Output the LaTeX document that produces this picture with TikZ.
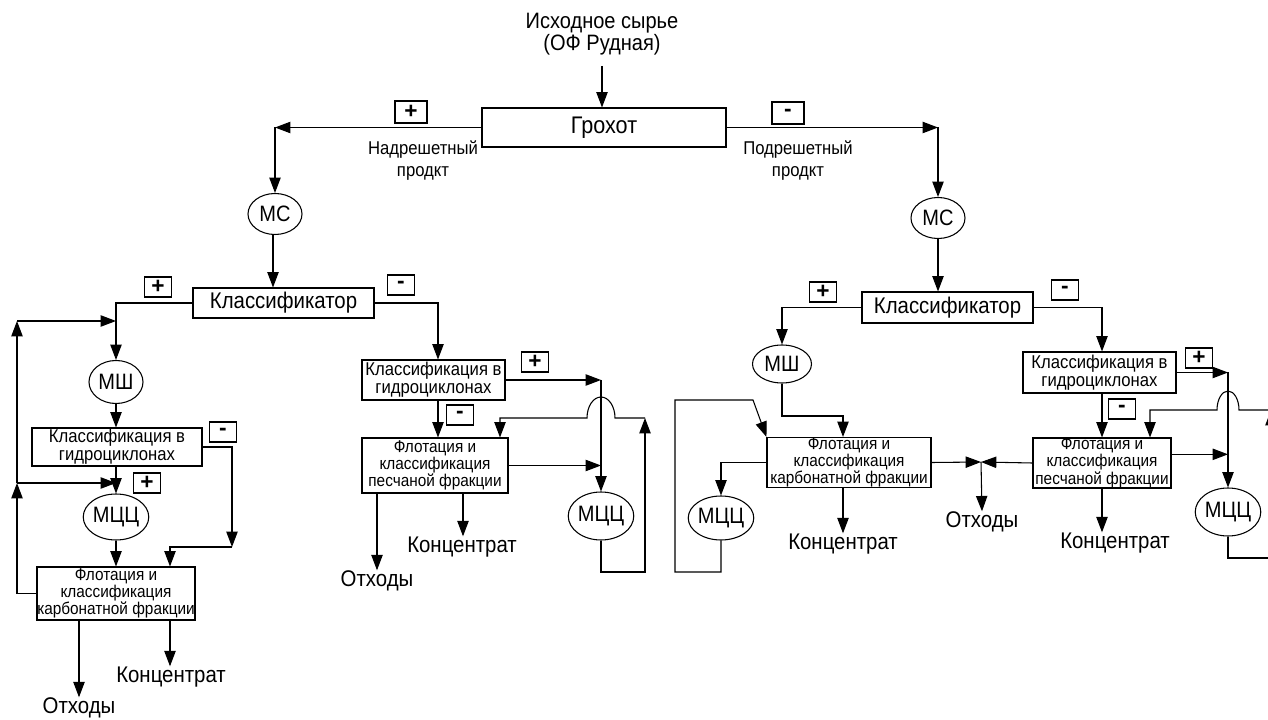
\documentclass[tikz,border=0pt]{standalone}
\usepackage{fontspec}
\setmainfont{Liberation Sans}
\newfontfamily\nf[FakeStretch=0.9]{Liberation Sans}
\usetikzlibrary{shapes.geometric,arrows.meta}
\newcommand\fsz[2]{\nf\fontsize{#1}{#2}\selectfont}
\newcommand\sgfont{\rmfamily\bfseries\fontsize{17}{17}\selectfont}
\tikzset{
  bx/.style={draw, rectangle, inner sep=0pt, align=center},
  ov/.style={draw, ellipse, inner sep=0pt, font=\fsz{16.7}{18}},
  sg/.style={draw, rectangle, inner sep=0pt, minimum width=27*0.75pt, minimum height=20*0.75pt, font=\sgfont},
  sgb/.style={sg, minimum width=32*0.75pt, minimum height=22*0.75pt},
  arr/.style={-{Triangle[length=11.5pt,width=8.5pt]}},
  lbl/.style={inner sep=0pt, align=center},
  big/.style={font=\fsz{17}{18}},
  hc/.style={font=\fsz{13.9}{13.5}},
  fl/.style={font=\fsz{12.8}{11.8}},
}
\begin{document}
\begin{tikzpicture}[x=0.75pt,y=-0.75pt,line width=0.8pt]
\useasboundingbox (0,0) rectangle (1268,720);
\clip (0,0) rectangle (1268,720);

% column coordinates
\coordinate (colL) at (116,0);
\coordinate (colLc) at (170,0);
\coordinate (colLo) at (79,0);
\coordinate (colM) at (438,0);
\coordinate (colMo) at (377,0);
\coordinate (colMc) at (463,0);
\coordinate (colV) at (601,0);
\coordinate (colR2) at (843,0);
\coordinate (colR3) at (1102,0);
\coordinate (colV2) at (1228,0);

% ---------- top ----------
\node[lbl, font=\fsz{16.7}{16}] (src) at (602,34) {Исходное сырье\\(ОФ Рудная)};
\node[bx, font=\fsz{18}{19}, minimum width=244*0.75pt, minimum height=39*0.75pt] (groh) at (604,127.5) {Грохот};
\node[sgb] (pA) at (411,112) {+};
\node[sgb] (mA) at (788,113) {-};
\node[lbl, font=\fsz{13.9}{16.5}] (nad) at (423,161) {Надрешетный\\продкт};
\node[lbl, font=\fsz{13.9}{16.5}] (pod) at (798,161) {Подрешетный\\продкт};
\node[ov, minimum width=54*0.75pt, minimum height=41*0.75pt] (msL) at (275,214) {МС};
\node[ov, minimum width=54*0.75pt, minimum height=41*0.75pt] (msR) at (938,218) {МС};
\coordinate (cL) at (275,127.5);
\coordinate (cR) at (938,127.5);

\draw[arr] ([yshift=-8pt]src.south) -- (src.south |- groh.north);
\draw[arr] (groh.west) -- (cL);
\draw[arr] (cL) -- (msL.north);
\draw[arr] (groh.east) -- (cR);
\draw[arr] (cR) -- (msR.north);

% ---------- left branch ----------
\node[bx, big, minimum width=181*0.75pt, minimum height=30*0.75pt] (klL) at (283.5,303) {Классификатор};
\node[sg] (pB) at (158,287) {+};
\node[sg] (mB) at (401,285) {-};
\node[ov, minimum width=54*0.75pt, minimum height=43*0.75pt] (mshL) at (116,382) {МШ};
\node[bx, hc, minimum width=170*0.75pt, minimum height=38*0.75pt] (gcL) at (117,447) {Классификация в\\гидроциклонах};
\node[sg] (mC) at (223,432) {-};
\node[sg] (pC) at (147,483) {+};
\node[ov, minimum width=53*0.75pt, minimum height=46*0.75pt] (mccL) at (116,517) {МЦЦ};
\node[bx, fl, minimum width=158*0.75pt, minimum height=53*0.75pt] (flL) at (116,593.5) {Флотация и\\классификация\\карбонатной фракции};
\node[lbl, big] (otxL) at (79,708) {Отходы};
\node[lbl, big] (konL) at (171,677) {Концентрат};
\coordinate (fbTop) at (17,321);
\coordinate (fbMid) at (17,483);
\coordinate (gL1) at (232,547);

\draw[arr] (msL.south -| 273,0) -- (273,0 |- klL.north);
\draw[arr] (klL.west) -| (mshL.north);
\draw[arr] (mshL.south) -- (mshL.south |- gcL.north);
\draw[arr] (fbMid) -- (fbTop);
\draw[arr] (fbTop) -- (colL |- fbTop);
\draw[arr] (flL.west) -| (fbMid);
\draw[arr] (fbMid) -- (colL |- fbMid);
\draw[arr] (colL |- gcL.south) -- (mccL.north);
\draw[arr] (mccL.south) -- (mccL.south |- flL.north);
\draw[arr] (gcL.east) -| (gL1);
\draw[arr] (gL1) -| (colLc |- flL.north);
\draw[arr] (colLo |- flL.south) -- (colLo |- otxL.north);
\draw[arr] (colLc |- flL.south) -- (colLc |- konL.north);

% ---------- middle branch ----------
\node[bx, hc, minimum width=143*0.75pt, minimum height=40*0.75pt] (gcM) at (433.5,380) {Классификация в\\гидроциклонах};
\node[sg] (pD) at (535,362) {+};
\node[sg] (mD) at (460,415) {-};
\node[bx, fl, minimum width=146*0.75pt, minimum height=55*0.75pt] (flM) at (435,465.5) {Флотация и\\классификация\\песчаной фракции};
\node[ov, minimum width=52*0.75pt, minimum height=48*0.75pt] (mccM) at (601,516) {МЦЦ};
\node[lbl, big] (otxM) at (377,581) {Отходы};
\node[lbl, big] (konM) at (462,547) {Концентрат};
\coordinate (lpMb) at (645,572);
\coordinate (lpMt) at (645,418);
\coordinate (hM) at (615,418);
\coordinate (fM) at (500,418);

\draw[arr] (klL.east) -| (colM |- gcM.north);
\draw[arr] (gcM.east) -- (colV |- gcM.east);
\draw[arr] (colV |- gcM.east) -- (mccM.north);
\draw[arr] (flM.east) -- (colV |- flM.east);
\draw[arr] (mccM.south) |- (lpMb) -- (lpMt);
\draw[arr] (lpMt) -- (hM) arc[start angle=0, end angle=-180, x radius=14, y radius=21] -- (fM) -- (fM |- flM.north);
\draw[arr] (colM |- gcM.south) -- (colM |- flM.north);
\draw[arr] (colMo |- flM.south) -- (colMo |- otxM.north);
\draw[arr] (colMc |- flM.south) -- (colMc |- konM.north);

% ---------- right branch ----------
\node[bx, big, minimum width=171*0.75pt, minimum height=31*0.75pt] (klR) at (947.5,307.5) {Классификатор};
\node[sg] (pE) at (823,292) {+};
\node[sg] (mE) at (1065,290) {-};
\node[ov, minimum width=59*0.75pt, minimum height=38*0.75pt] (mshR) at (782,364) {МШ};
\node[bx, fl, minimum width=164*0.75pt, minimum height=49*0.75pt] (flR) at (849,462.5) {Флотация и\\классификация\\карбонатной фракции};
\node[ov, minimum width=52*0.75pt, minimum height=44*0.75pt] (mccR) at (721,518) {МЦЦ};
\node[lbl, big] (konR) at (843,544) {Концентрат};
\node[lbl, big] (otxR) at (982,522) {Отходы};
\node[bx, hc, minimum width=153*0.75pt, minimum height=41*0.75pt] (gcR) at (1099.5,372.5) {Классификация в\\гидроциклонах};
\node[sg] (pF) at (1199,358) {+};
\node[sg] (mF) at (1122,409) {-};
\node[bx, fl, minimum width=138*0.75pt, minimum height=50*0.75pt] (fl4) at (1102,463) {Флотация и\\классификация\\песчаной фракции};
\node[ov, minimum width=50*0.75pt, minimum height=48*0.75pt] (mcc4) at (1228,512) {МЦЦ};
\node[lbl, big] (kon4) at (1115,543) {Концентрат};
\coordinate (m1) at (782,416);
\coordinate (lr1) at (675,572);
\coordinate (lr2) at (675,400);
\coordinate (lr3) at (753,400);
\coordinate (J) at (981,462);
\coordinate (f4e) at ([yshift=6.5pt]fl4.east);
\coordinate (lr4b) at (1271,558);
\coordinate (lr4t) at (1271,410);
\coordinate (h4) at (1239,410);
\coordinate (f4) at (1150,410);

\draw[arr] (msR.south) -- (msR.south |- klR.north);
\draw[arr] (klR.west) -| (mshR.north);
\draw[arr] (klR.east) -| (colR3 |- gcR.north);
\draw[arr] (mshR.south) -- (m1) -| (colR2 |- flR.north);
\draw[arr] (mccR.south) |- (lr1) -- (lr2) -- (lr3) -- (flR.north west);
\draw[arr] (flR.west) -| (mccR.north);
\draw[arr] (colR2 |- flR.south) -- (colR2 |- konR.north);
\draw[arr] (flR.east) -- (J);
\draw[arr] (fl4.west) -- (J);
\draw[arr] (J) -- (otxR.north);
\draw[arr] (gcR.east) -- (colV2 |- gcR.east);
\draw[arr] (colV2 |- gcR.east) -- (mcc4.north);
\draw[arr] (f4e) -- (colV2 |- f4e);
\draw[arr] (colR3 |- gcR.south) -- (colR3 |- fl4.north);
\draw[arr] (mcc4.south) |- (lr4b) -- (lr4t);
\draw[arr] (lr4t) -- (h4) arc[start angle=0, end angle=-180, x radius=11, y radius=19] -- (f4) -- (f4 |- fl4.north);
\draw[arr] (colR3 |- fl4.south) -- (colR3 |- kon4.north);
\end{tikzpicture}
\end{document}
